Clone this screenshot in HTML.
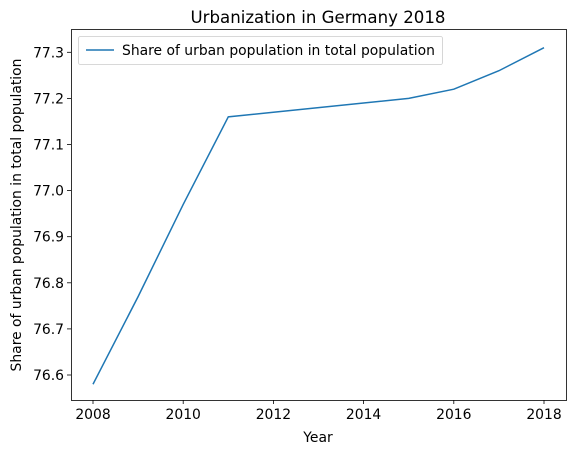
<!DOCTYPE html>
<html><head><meta charset="utf-8"><style>
body{margin:0;background:#fff;}
svg text{font-family:"DejaVu Sans","Liberation Sans",sans-serif;fill:#000;}
</style></head><body>
<svg id="chart" width="576" height="455" xmlns="http://www.w3.org/2000/svg">
<rect width="576" height="455" fill="#fff"/>
<text x="318" y="23" font-size="16.6" text-anchor="middle">Urbanization in Germany 2018</text>
<g id="axes"></g>
<rect x="71.5" y="29.5" width="495" height="371" fill="none" stroke="#000" stroke-width="0.8"/>
<text x="318" y="442" font-size="13.9" text-anchor="middle">Year</text>
<text transform="translate(21,215) rotate(-90)" font-size="13.9" text-anchor="middle">Share of urban population in total population</text>
<g>
<rect x="78.5" y="36.5" width="364" height="28" rx="2" fill="#fff" stroke="#ccc" stroke-width="0.8"/>
<line x1="86" y1="50" x2="114" y2="50" stroke="#1f77b4" stroke-width="1.5"/>
<text x="122" y="55" font-size="13.9">Share of urban population in total population</text>
</g>
</svg>
<script>
const years=[2008,2009,2010,2011,2012,2013,2014,2015,2016,2017,2018];
const shares=[76.58,76.77,76.97,77.16,77.17,77.18,77.19,77.20,77.22,77.26,77.31];
const xTicks=[2008,2010,2012,2014,2016,2018];
const yTicks=[76.6,76.7,76.8,76.9,77.0,77.1,77.2,77.3];
const NS="http://www.w3.org/2000/svg";
const xs=v=>93+(v-2008)*45.1;
const ys=v=>375-(v-76.6)*461;
const g=document.getElementById('axes');
function mk(t,a){const e=document.createElementNS(NS,t);for(const k in a)e.setAttribute(k,a[k]);g.appendChild(e);return e;}
xTicks.forEach(t=>{
 const l=mk('line',{x1:xs(t),x2:xs(t),y1:400,y2:404,stroke:'#000','stroke-width':0.8});
 
 
 const tx=mk('text',{x:xs(t),y:419,'font-size':13.9,'text-anchor':'middle'});tx.textContent=t;
 
 
});
yTicks.forEach(t=>{
 const l=mk('line',{x1:67,x2:71,y1:ys(t),y2:ys(t),stroke:'#000','stroke-width':0.8});
 
 
 const tx=mk('text',{x:64,y:ys(t)+5,'font-size':13.9,'text-anchor':'end'});tx.textContent=t.toFixed(1);
 
 
});
const p=mk('polyline',{points:years.map((y,i)=>xs(y)+','+ys(shares[i])).join(' '),fill:'none',stroke:'#1f77b4','stroke-width':1.5});


</script>
</body></html>
